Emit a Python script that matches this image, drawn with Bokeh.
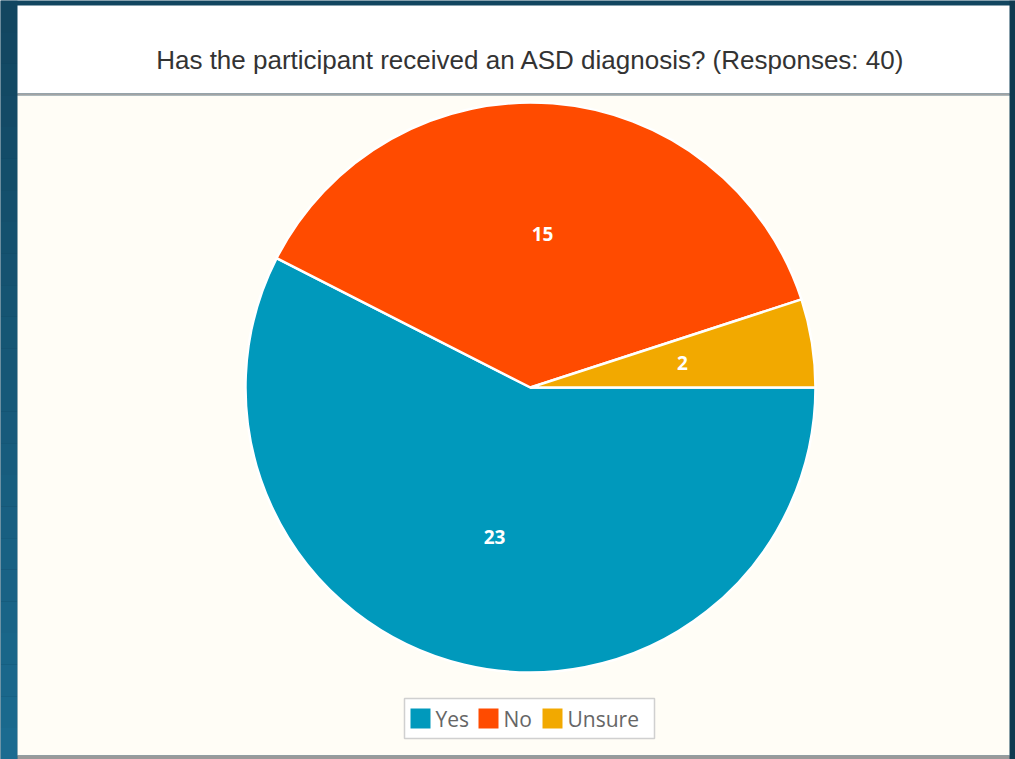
import numpy as np
from bokeh.plotting import figure
from bokeh.models import Range1d, ColumnDataSource
from bokeh.core.properties import value
from bokeh.embed import file_html
from bokeh.resources import INLINE

# ---- data ----
categories = ["Yes", "No", "Unsure"]
counts = [23, 15, 2]
colors = ["#0099BC", "#FF4B00", "#F2A900"]
title_text = "Has the participant received an ASD diagnosis? (Responses: 40)"

# ---- layout (page pixel coordinates) ----
W, H = 1015, 759


def Y(py):
    return H - py


p = figure(width=W, height=H, output_backend="svg", toolbar_location=None,
           x_range=Range1d(0, W), y_range=Range1d(0, H),
           x_axis_type=None, y_axis_type=None, min_border=0,
           background_fill_color="#124660", border_fill_color="#124660")
p.outline_line_color = None
p.grid.visible = False

# dark frame gradient (decoration)
nb = 24
tops = np.linspace(0, H, nb + 1)
c0 = np.array([0x12, 0x46, 0x60])
c1 = np.array([0x1b, 0x6b, 0x90])
band_cols = ["#%02x%02x%02x" % tuple(int(v) for v in c0 + (c1 - c0) * t)
             for t in np.linspace(0, 1, nb)]
p.quad(left=0, right=17, top=[Y(t) for t in tops[:-1]], bottom=[Y(t) for t in tops[1:]],
       fill_color=band_cols, line_color=None)
p.quad(left=[1009], right=[W], top=[H], bottom=[0], fill_color="#0f3a50", line_color=None)

# panels
p.quad(left=[17], right=[1009], top=[Y(5)], bottom=[Y(93)], fill_color="white", line_color=None)
p.quad(left=[17], right=[1009], top=[Y(93)], bottom=[Y(95)], fill_color="#a3a3a3", line_color=None)
p.quad(left=[17], right=[1009], top=[Y(95)], bottom=[Y(755)], fill_color="#FFFDF6", line_color=None)
p.quad(left=[17], right=[1009], top=[Y(755)], bottom=[0], fill_color="#9a9a9a", line_color=None)

# title
p.text(x=[530], y=[Y(59)], text=[title_text], text_align="center", text_baseline="middle",
       text_font=value("Liberation Sans"), text_font_size="26px", text_color="#333333")

# pie
cx, cy, R = 530, Y(387), 285
total = float(sum(counts))
fracs = np.array(counts) / total
ends = -2 * np.pi * np.concatenate([[0], np.cumsum(fracs)[:-1]])
starts = ends - 2 * np.pi * fracs
mids = (starts + ends) / 2
lr = 0.54 * R
src = ColumnDataSource(dict(cat=categories, count=counts, color=colors,
                            start=starts, end=ends,
                            lx=cx + lr * np.cos(mids), ly=cy + lr * np.sin(mids),
                            label=[str(c) for c in counts]))
p.wedge(x=cx, y=cy, radius=R, start_angle="start", end_angle="end", fill_color="color",
        line_color="white", line_width=2.5, source=src)
p.text(x="lx", y="ly", text="label", source=src, text_align="center", text_baseline="middle",
       text_font=value("Open Sans"), text_font_style="bold", text_font_size="19px",
       text_color="white")

# legend (manual, horizontal)
p.quad(left=[404], right=[654], top=[Y(698)], bottom=[Y(738)], fill_color="white",
       line_color="#d0d0d0", line_width=1.5)
sq_left = [409, 477, 541]
sq_size = 22
leg = ColumnDataSource(dict(
    l=sq_left, r=[x + sq_size for x in sq_left],
    t=[Y(707)] * 3, b=[Y(707 + sq_size)] * 3,
    color=colors, tx=[x + sq_size + 4 for x in sq_left], ty=[Y(718)] * 3, cat=categories))
p.quad(left="l", right="r", top="t", bottom="b", fill_color="white", line_color="#b0b0b0",
       line_width=1, source=leg)
p.quad(left="l", right="r", top="t", bottom="b", fill_color="color", line_color="white",
       line_width=2, source=leg)
p.text(x="tx", y="ty", text="cat", source=leg, text_align="left", text_baseline="middle",
       text_font=value("Open Sans"), text_font_size="21px", text_color="#666666")

open("out.html", "w").write(file_html(p, INLINE))
